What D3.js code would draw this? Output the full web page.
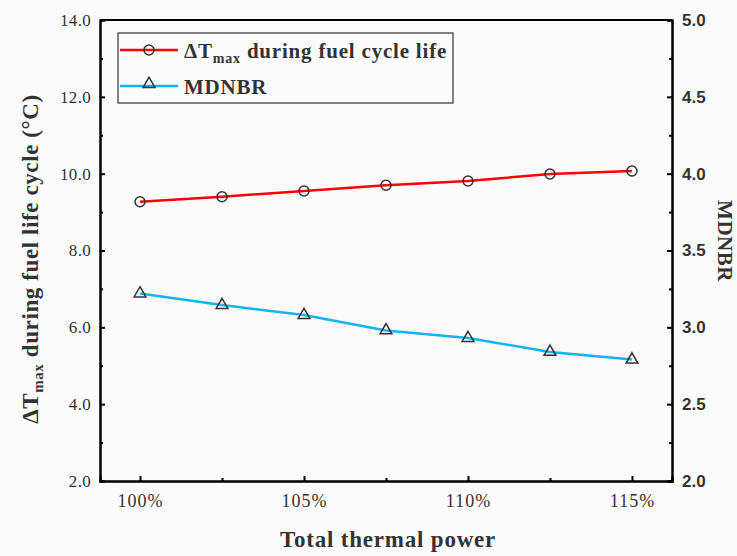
<!DOCTYPE html>
<html>
<head>
<meta charset="utf-8">
<script src="https://cdn.jsdelivr.net/npm/d3@7"></script>
<style>
  body { margin: 0; background: #fcfbfb; }
  svg { display: block; }
  text { fill: #333; }
</style>
</head>
<body>
<svg id="chart" width="737" height="556"></svg>
<script>
// du lieu
const power = [100, 102.5, 105, 107.5, 110, 112.5, 115];
const dTmax = [9.27, 9.40, 9.55, 9.70, 9.81, 9.99, 10.07];
const mdnbr = [3.22, 3.145, 3.08, 2.98, 2.93, 2.84, 2.79];
const xTicks = [100, 105, 110, 115];
const leftTicks = [2, 4, 6, 8, 10, 12, 14];
const rightTicks = [2.0, 2.5, 3.0, 3.5, 4.0, 4.5, 5.0];

const svg = d3.select("#chart"),
      margin = {top: 20, right: 65, bottom: 75, left: 100},
      width = +svg.attr("width") - margin.left - margin.right,
      height = +svg.attr("height") - margin.top - margin.bottom;

const g = svg.append("g")
             .attr("transform", `translate(${margin.left},${margin.top})`);

const x = d3.scaleLinear().domain([98.78, 116.22]).range([0, width]);
const yL = d3.scaleLinear().domain([2, 14]).range([height, 0]);
const yR = d3.scaleLinear().domain([2, 5]).range([height, 0]);

const serif = "'Palatino Linotype','Book Antiqua',Palatino,'Liberation Serif',serif";

// Truc X (ticks huong vao trong)
g.append("g")
  .attr("class", "xaxis")
  .attr("transform", `translate(0,${height})`)
  .call(d3.axisBottom(x).tickValues(xTicks).tickSize(-5).tickPadding(13)
    .tickFormat(d => d + "%"));
g.append("g")
  .attr("transform", `translate(0,${height})`)
  .call(d3.axisBottom(x).tickValues([102.5, 107.5, 112.5]).tickSize(-3).tickFormat(""));

// Truc trai
g.append("g")
  .call(d3.axisLeft(yL).tickValues(leftTicks).tickSize(-5).tickPadding(9)
    .tickFormat(d3.format(".1f")));
g.append("g")
  .call(d3.axisLeft(yL).tickValues([3, 5, 7, 9, 11, 13]).tickSize(-3).tickFormat(""));

// Truc phai
g.append("g")
  .attr("class", "right")
  .attr("transform", `translate(${width},0)`)
  .call(d3.axisRight(yR).tickValues(rightTicks).tickSize(-5).tickPadding(10)
    .tickFormat(d3.format(".1f")));
g.append("g")
  .attr("transform", `translate(${width},0)`)
  .call(d3.axisRight(yR).tickValues([2.25, 2.75, 3.25, 3.75, 4.25, 4.75]).tickSize(-3).tickFormat(""));

// Khung tren
g.append("line").attr("x1", 0).attr("x2", width).attr("y1", 0).attr("y2", 0)
  .attr("stroke", "#000").attr("stroke-width", 2);

g.selectAll(".domain").attr("stroke", "#000").attr("stroke-width", 2);
g.selectAll(".tick line").attr("stroke", "#000").attr("stroke-width", 2);
g.selectAll(".tick text").style("font-family", serif).style("font-size", "17px")
  .style("letter-spacing", "0.3px").attr("fill", "#333");
g.select(".xaxis").selectAll(".tick text")
  .style("font-size", "18px").style("letter-spacing", "1px");
g.select(".right").selectAll(".tick text")
  .style("font-family", "'Liberation Sans',Arial,sans-serif")
  .style("font-weight", "bold").style("font-size", "17px").style("letter-spacing", "0px");

// Duong
const lineL = d3.line().x((d, i) => x(power[i])).y(d => yL(d));
const lineR = d3.line().x((d, i) => x(power[i])).y(d => yR(d));

g.append("path").datum(dTmax).attr("d", lineL)
  .attr("fill", "none").attr("stroke", "#ff0000").attr("stroke-width", 2.5);
g.append("path").datum(mdnbr).attr("d", lineR)
  .attr("fill", "none").attr("stroke", "#10b4ee").attr("stroke-width", 2.5);

const tri = d3.symbol().type(d3.symbolTriangle).size(60);

g.selectAll("circle.pt").data(dTmax).enter().append("circle")
  .attr("class", "pt")
  .attr("cx", (d, i) => x(power[i])).attr("cy", d => yL(d)).attr("r", 5)
  .attr("fill", "none").attr("stroke", "#333").attr("stroke-width", 1.5);

g.selectAll("path.tri").data(mdnbr).enter().append("path")
  .attr("class", "tri")
  .attr("d", tri)
  .attr("transform", (d, i) => `translate(${x(power[i])},${yR(d)})`)
  .attr("fill", "none").attr("stroke", "#333").attr("stroke-width", 1.5);

// Chu giai
const lg = g.append("g").attr("transform", "translate(18,13)");
lg.append("rect").attr("width", 335).attr("height", 70)
  .attr("fill", "none").attr("stroke", "#333").attr("stroke-width", 1.2);
lg.append("line").attr("x1", 2).attr("x2", 60).attr("y1", 17).attr("y2", 17)
  .attr("stroke", "#ff0000").attr("stroke-width", 2.5);
lg.append("circle").attr("cx", 31).attr("cy", 17).attr("r", 5)
  .attr("fill", "none").attr("stroke", "#333").attr("stroke-width", 1.5);
lg.append("line").attr("x1", 2).attr("x2", 60).attr("y1", 53).attr("y2", 53)
  .attr("stroke", "#10b4ee").attr("stroke-width", 2.5);
lg.append("path").attr("d", tri).attr("transform", "translate(31,51)")
  .attr("fill", "none").attr("stroke", "#333").attr("stroke-width", 1.5);

const t1 = lg.append("text").attr("x", 66).attr("y", 25)
  .style("font-family", serif).style("font-weight", "bold").style("font-size", "21px")
  .style("letter-spacing", "0.8px");
t1.append("tspan").text("ΔT");
t1.append("tspan").attr("dy", 5).style("font-size", "14px").text("max");
t1.append("tspan").attr("dy", -5).text(" during fuel cycle life");
lg.append("text").attr("x", 66).attr("y", 61)
  .style("font-family", serif).style("font-weight", "bold").style("font-size", "21px")
  .style("letter-spacing", "0.8px")
  .text("MDNBR");

// Tieu de truc
svg.append("text")
  .attr("x", margin.left + width / 2 + 2).attr("y", 547)
  .attr("text-anchor", "middle")
  .style("font-family", serif).style("font-weight", "bold").style("font-size", "23px")
  .style("letter-spacing", "0.8px")
  .text("Total thermal power");

const ty = svg.append("text")
  .attr("transform", "translate(38,259) rotate(-90)")
  .attr("text-anchor", "middle")
  .style("font-family", serif).style("font-weight", "bold").style("font-size", "23px")
  .style("letter-spacing", "0.6px");
ty.append("tspan").text("ΔT");
ty.append("tspan").attr("dy", 5).style("font-size", "15px").text("max");
ty.append("tspan").attr("dy", -5).text(" during fuel life cycle (°C)");

svg.append("text")
  .attr("transform", "translate(718,241) rotate(90)")
  .attr("text-anchor", "middle")
  .style("font-family", serif).style("font-weight", "bold").style("font-size", "21px")
  .style("letter-spacing", "0.5px")
  .text("MDNBR");
</script>
</body>
</html>
